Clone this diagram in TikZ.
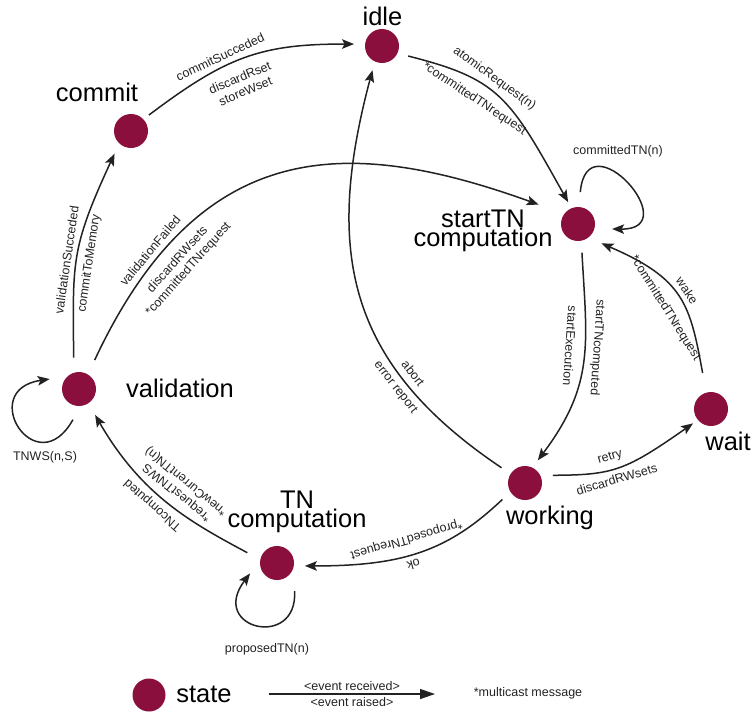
\documentclass[tikz,border=0pt]{standalone}
\usepackage{fontspec}
\setmainfont{Liberation Sans}
\usetikzlibrary{arrows.meta}
\definecolor{statecol}{RGB}{139,15,60}
\definecolor{linecol}{RGB}{34,34,34}
\definecolor{txtcol}{RGB}{35,35,35}
\begin{document}
\begin{tikzpicture}[x=1pt,y=-1pt,
  state/.style={circle, fill=statecol, minimum size=34pt, inner sep=0pt, outer sep=11pt},
  bigtext/.style={font=\fontsize{25.5}{19.5}\selectfont, inner sep=0pt, text=black, align=center},
  lbl/.style={font=\fontsize{12.5}{14.5}\selectfont, inner sep=1.5pt, text=txtcol, align=center},
  edge/.style={draw=linecol, line width=1.5pt, -{Stealth[length=12pt,width=9.5pt,inset=2.5pt]}},
]
\useasboundingbox (0,0) rectangle (751,715);

% states
\node[state] (idle) at (382,46) {};
\node[state] (commit) at (131,131) {};
\node[state] (start) at (578,224) {};
\node[state] (wait) at (711,409) {};
\node[state] (valid) at (79,389) {};
\node[state] (work) at (525,483) {};
\node[state] (tncomp) at (277,563) {};

% state names
\node[bigtext, anchor=base] (idlelbl) at (382.5,25) {idle};
\node[bigtext, anchor=base] (commitlbl) at (97,101) {commit};
\node[bigtext] (startlbl) at (483,231) {startTN\\computation};
\node[bigtext, anchor=base] (waitlbl) at (728,450) {wait};
\node[bigtext, anchor=base] (validlbl) at (180,397) {validation};
\node[bigtext, anchor=base] (worklbl) at (550,524) {working};
\node[bigtext] (tncomplbl) at (297,512) {TN\\computation};

% transitions
\draw[edge, shorten <=-4pt] (commit.41) .. controls (226,57) and (260,44) ..
  node[lbl, sloped, above=3.5pt, pos=.38] {commitSucceded}
  node[lbl, sloped, below=10pt, pos=.43] {discardRset\\storeWset} (idle.176);

\draw[edge, shorten >=-4pt] (idle.-21) .. controls (499,79) and (509,96) ..
  node[lbl, sloped, above=3pt, pos=.41] {atomicRequest(n)}
  node[lbl, sloped, below=9pt, pos=.38] {*committedTNrequest} (start.115);

\draw[edge, shorten <=5pt, shorten >=16pt] (valid.61) .. controls (200,135) and (348,136) ..
  node[lbl, sloped, above=4pt, pos=.19] {validationFailed}
  node[lbl, sloped, below=8pt, pos=.21] {discardRWsets\\*committedTNrequest} (start.150);

\draw[edge, shorten <=4pt] (valid.101) .. controls (73,262) and (70,250) ..
  node[lbl, sloped, above=3pt, pos=.47] {validationSucceded}
  node[lbl, sloped, below=5pt, pos=.47] {commitToMemory} (commit.234);

\draw[edge, shorten <=1pt, shorten >=-2pt] (start.-82) .. controls (587,344) and (595,384) ..
  node[lbl, sloped, allow upside down, above=4pt, pos=.42] {startTNcomputed}
  node[lbl, sloped, allow upside down, below=8pt, pos=.42] {startExecution} (work.60);

\draw[edge, shorten <=9pt, shorten >=2.5pt] (wait.104) .. controls (690,304) and (684,279) ..
  node[lbl, sloped, above=4pt, pos=.5] {wake}
  node[lbl, sloped, below=9pt, pos=.48] {*committedTNrequest} (start.-41);

\draw[edge, shorten <=1pt, shorten >=-5pt] (work.16) .. controls (613,475) and (625,471) ..
  node[lbl, sloped, above=5pt, pos=.45] {retry}
  node[lbl, sloped, below=3.5pt, pos=.45] {discardRWsets} (wait.218);

\draw[edge, shorten >=-2pt] (work.147) .. controls (347,364) and (324,252) ..
  node[lbl, sloped, above=5pt, pos=.27] {abort}
  node[lbl, sloped, below=3.5pt, pos=.27] {error report} (idle.249);

\draw[edge] (work.216) .. controls (448,551) and (403,566) ..
  node[lbl, sloped, allow upside down, above=3.5pt, pos=.55] {ok}
  node[lbl, sloped, allow upside down, below=8pt, pos=.55] {*proposedTNrequest} (tncomp.-6);

\draw[edge, shorten <=3.5pt, shorten >=2.5pt] (tncomp.162) .. controls (192,523) and (142,496) ..
  node[lbl, sloped, allow upside down, above=3.5pt, pos=.55] {TNcomputed}
  node[lbl, sloped, allow upside down, below=6pt, pos=.5] {*requestTNWS\\*newCurrentTN(n)} (valid.-58);

% self loops
\draw[edge, shorten <=4pt, shorten >=6.5pt] (start.86) .. controls (587,117) and (687,230) .. (start.-10);
\node[lbl] (ctnlbl) at (618,151) {committedTN(n)};

\draw[edge, shorten <=3.4pt, shorten >=3.4pt] (valid.261) .. controls (36.5,485) and (-24,390) .. (valid.158);
\node[lbl] (tnwslbl) at (45,457) {TNWS(n,S)};

\draw[edge, shorten <=6pt, shorten >=1pt] (tncomp.-52) .. controls (298,650) and (208,629) .. (tncomp.200);
\node[lbl] (ptnlbl) at (267,649) {proposedTN(n)};

% legend
\node[state, outer sep=0pt, minimum size=33pt] (legstate) at (149,695) {};
\node[bigtext, anchor=base] (legstatelbl) at (204,702) {state};
\coordinate (la) at (269,694);
\coordinate (lb) at (435,694);
\draw[draw=linecol, line width=1.3pt, -{Triangle[length=15pt,width=10pt]}] (la) --
  node[lbl, above=1pt] {<event received>}
  node[lbl, below=1pt] {<event raised>} (lb);
\node[lbl] (multilbl) at (528,693) {*multicast message};
\end{tikzpicture}
\end{document}
